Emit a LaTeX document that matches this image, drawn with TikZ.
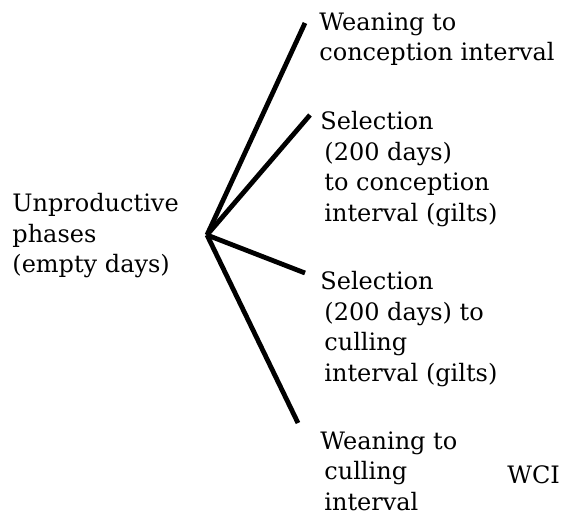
\documentclass[tikz,border=0pt]{standalone}
\usepackage{fontspec}
\setmainfont{DejaVu Serif}
\tikzset{
    phase/.style={
        anchor=north west,
        align=left,
        inner sep=0pt,
        font=\fontsize{12}{15.3}\selectfont
    },
    branch/.style={
        line width=2.4pt
    }
}
\begin{document}
\begin{tikzpicture}[x=0.5pt,y=-0.5pt]
\useasboundingbox (0,0) rectangle (568,515);
\node[phase] (empty) at (12,193) {Unproductive\\phases\\(empty days)};
\coordinate (hub) at (207,235);
\node[phase] (wconc) at (319,12) {Weaning to\\conception interval};
\node[phase] (sconc) at (320,111) {Selection\\\hspace{2pt}(200 days)\\\hspace{2pt}to conception\\\hspace{2pt}interval (gilts)};
\node[phase] (scull) at (320,271) {Selection\\\hspace{2pt}(200 days) to\\\hspace{2pt}culling\\\hspace{2pt}interval (gilts)};
\node[phase] (wcull) at (320,431) {Weaning to\\\hspace{2pt}culling\\\hspace{2pt}interval};
\node[phase,anchor=base west] (wcilbl) at (507,483) {WCI};
\coordinate (e1) at (305,23);
\coordinate (e2) at (310,115);
\coordinate (e3) at (305,273);
\coordinate (e4) at (298,423);
\draw[branch] (hub) -- (e1);
\draw[branch] (hub) -- (e2);
\draw[branch] (hub) -- (e3);
\draw[branch] (hub) -- (e4);
\end{tikzpicture}
\end{document}
